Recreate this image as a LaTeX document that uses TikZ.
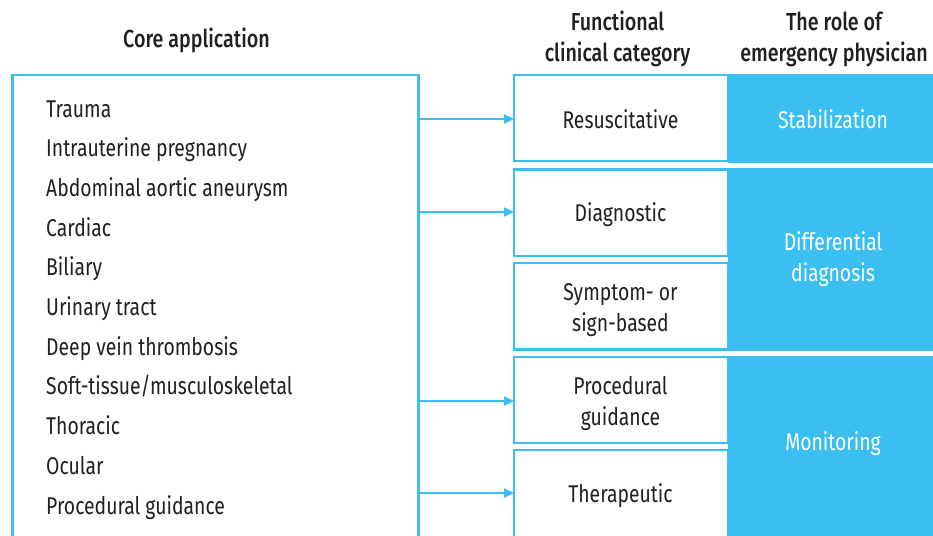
\documentclass[tikz,border=0pt]{standalone}
\usepackage{fontspec}
\setmainfont{Fira Sans}[BoldFont=* Medium, FakeStretch=0.8]
\usetikzlibrary{arrows.meta}
\definecolor{cblue}{RGB}{59,191,240}
\definecolor{ctext}{RGB}{35,31,32}
\begin{document}
\begin{tikzpicture}[x=1pt,y=-1pt,
  lineb/.style={draw=cblue, line width=2.3pt},
  fbox/.style={lineb, fill=white, minimum width=214pt, inner sep=0pt, outer sep=0pt},
  rbox/.style={fill=cblue, minimum width=212pt, inner sep=0pt, outer sep=0pt},
  arr/.style={cblue, line width=2.3pt, -{Triangle[length=10pt,width=9pt]}},
  item/.style={anchor=base west, inner sep=0pt, text=ctext, font=\fontsize{24.2}{28}\selectfont},
  btxt/.style={anchor=base, inner sep=0pt, text=ctext, font=\fontsize{24.2}{28}\selectfont},
  wtxt/.style={anchor=base, inner sep=0pt, text=white, font=\fontsize{24.2}{28}\selectfont},
  head/.style={anchor=base, inner sep=0pt, text=ctext, font=\fontsize{24.6}{28}\selectfont\bfseries}]
\clip (0,0) rectangle (933,535);
\fill[white] (0,0) rectangle (933,535);
% core application box
\node[lineb, minimum width=406pt, minimum height=525pt, inner sep=0pt, outer sep=0pt] (core) at (215.5,337.5) {};
% functional boxes
\node[fbox, minimum height=86pt] (res) at (621,118) {};
\node[fbox, minimum height=86.5pt] (dia) at (621,212.75) {};
\node[fbox, minimum height=86.5pt] (sym) at (621,306.25) {};
\node[fbox, minimum height=86pt] (pro) at (621,400) {};
\node[fbox, minimum height=150pt] (the) at (621,525) {};
% role boxes
\node[rbox, minimum height=89pt] (stab) at (834,118) {};
\node[rbox, minimum height=183.5pt] (diff) at (834,259.25) {};
\node[rbox, minimum height=244.5pt] (moni) at (834,477.75) {};
% arrows
\draw[arr] (core.east |- 0,119) -- (res.west |- 0,119);
\draw[arr] (core.east |- 0,212) -- (dia.west |- 0,212);
\draw[arr] (core.east |- 0,401) -- (pro.west |- 0,401);
\draw[arr] (core.east |- 0,493) -- (the.west |- 0,493);
% headers
\node[head] (h1) at (196.5,48) {Core application};
\node[head] (h2a) at (617.5,31) {Functional};
\node[head] (h2b) at (617.5,62) {clinical category};
\node[head] (h3a) at (834,31) {The role of};
\node[head] (h3b) at (834,62) {emergency physician};
% items
\node[item] (i1) at (46,117) {Trauma};
\node[item] (i2) at (46,156.7) {Intrauterine pregnancy};
\node[item] (i3) at (46,196.4) {Abdominal aortic aneurysm};
\node[item] (i4) at (46,236.1) {Cardiac};
\node[item] (i5) at (46,275.8) {Biliary};
\node[item] (i6) at (46,315.5) {Urinary tract};
\node[item] (i7) at (46,355.2) {Deep vein thrombosis};
\node[item] (i8) at (46,394.9) {Soft-tissue/musculoskeletal};
\node[item] (i9) at (46,434.6) {Thoracic};
\node[item] (i10) at (46,474.3) {Ocular};
\node[item] (i11) at (46,514) {Procedural guidance};
% functional texts
\node[btxt] (t1) at (620.5,128) {Resuscitative};
\node[btxt] (t2) at (620.5,221) {Diagnostic};
\node[btxt] (t3a) at (620.5,300) {Symptom- or};
\node[btxt] (t3b) at (620.5,331) {sign-based};
\node[btxt] (t4a) at (620.5,394) {Procedural};
\node[btxt] (t4b) at (620.5,425) {guidance};
\node[btxt] (t5) at (620.5,502) {Therapeutic};
% role texts
\node[wtxt] (r1) at (833,128) {Stabilization};
\node[wtxt] (r2a) at (833,250.5) {Differential};
\node[wtxt] (r2b) at (833,281.5) {diagnosis};
\node[wtxt] (r3) at (833,450) {Monitoring};
\end{tikzpicture}
\end{document}
